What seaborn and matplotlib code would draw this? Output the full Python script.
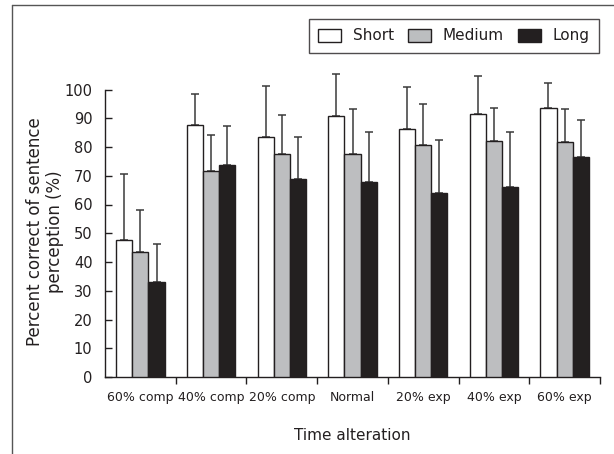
import numpy as np
import pandas as pd
import matplotlib
matplotlib.use("Agg")
import matplotlib.pyplot as plt
import seaborn as sns
from matplotlib.lines import Line2D
from matplotlib.patches import Patch

categories = ["60% comp", "40% comp", "20% comp", "Normal", "20% exp", "40% exp", "60% exp"]
groups = ["Short", "Medium", "Long"]
short_mean = [47.8, 87.6, 83.4, 90.8, 86.3, 91.6, 93.5]
medium_mean = [43.6, 71.5, 77.5, 77.4, 80.6, 82.1, 81.9]
long_mean = [33.1, 73.7, 68.7, 67.8, 63.9, 66.0, 76.6]
short_sd = [22.7, 10.7, 17.8, 14.6, 14.6, 13.1, 8.6]
medium_sd = [14.6, 12.7, 13.8, 15.7, 14.2, 11.5, 11.2]
long_sd = [13.3, 13.7, 14.9, 17.4, 18.6, 19.1, 12.9]
yticks = list(range(0, 101, 10))
colors = {"Short": "#ffffff", "Medium": "#bcbec0", "Long": "#231f20"}

rows = []
for g, means, sds in zip(groups, [short_mean, medium_mean, long_mean], [short_sd, medium_sd, long_sd]):
    for c, m, s in zip(categories, means, sds):
        rows.append({"cat": c, "grp": g, "mean": m, "sd": s})
df = pd.DataFrame(rows)

sns.set_style("ticks")
plt.rcParams["font.family"] = ["DejaVu Sans"]

fig = plt.figure(figsize=(6.14, 4.54), dpi=100)
W, H = 614, 454
ax = fig.add_axes([105 / W, 1 - 377 / H, (600 - 105) / W, (377 - 89.5) / H])

sns.barplot(data=df, x="cat", y="mean", hue="grp", order=categories, hue_order=groups,
            palette=colors, width=0.686, edgecolor="#231f20", linewidth=1.0,
            errorbar=None, ax=ax, legend=False, zorder=3)

# error bars (upward only), positioned from the drawn bars
for gi, g in enumerate(groups):
    sub = df[df["grp"] == g].set_index("cat").loc[categories]
    patches = ax.patches[gi * len(categories):(gi + 1) * len(categories)]
    xs = [p.get_x() + p.get_width() / 2 for p in patches]
    ax.errorbar(xs, sub["mean"].values, yerr=[np.zeros(len(xs)), sub["sd"].values],
                fmt="none", ecolor="#3a3a3a", elinewidth=1.1, capsize=3.2, capthick=1.1,
                zorder=2, clip_on=False)

ax.set_ylim(0, 100)
ax.set_xlim(-0.5, len(categories) - 0.5)
ax.set_yticks(yticks)
ax.set_yticklabels([str(v) for v in yticks])
ax.tick_params(axis="y", which="both", direction="in", left=True, length=5, width=1,
               pad=9, labelsize=10.5, colors="#231f20")
ax.set_xticks(range(len(categories)))
ax.set_xticklabels(categories)
ax.tick_params(axis="x", which="major", length=0, pad=10, labelsize=9, colors="#231f20")
ax.set_xticks(np.arange(0.5, len(categories), 1.0), minor=True)
ax.tick_params(axis="x", which="minor", direction="out", length=5, width=1, color="#231f20")
for s in ["top", "right"]:
    ax.spines[s].set_visible(False)
for s in ["left", "bottom"]:
    ax.spines[s].set_linewidth(1.0)
    ax.spines[s].set_color("#231f20")
ax.set_xlabel("")
ax.set_ylabel("")

fig.text(45 / W, 1 - 232 / H, "Percent correct of sentence\nperception (%)", rotation=90,
         ha="center", va="center", multialignment="center", fontsize=12, color="#231f20",
         linespacing=1.15)
fig.text(352 / W, 1 - 436 / H, "Time alteration", ha="center", va="center",
         fontsize=11, color="#231f20")

# legend
handles = [Patch(facecolor=colors[g], edgecolor="#231f20", linewidth=1.0) for g in groups]
leg = fig.legend(handles, groups, loc="upper right", bbox_to_anchor=(599 / W, 1 - 19 / H),
                 borderaxespad=0.0, ncol=3, frameon=True, fancybox=False, fontsize=11,
                 handlelength=1.5, handleheight=0.9, columnspacing=0.95, handletextpad=0.75,
                 borderpad=0.62)
leg.get_frame().set_edgecolor("#231f20")
leg.get_frame().set_linewidth(1.0)
for t in leg.get_texts():
    t.set_color("#231f20")

# outer frame lines (top and left)
fig.add_artist(Line2D([12 / W, 1.0], [1 - 5 / H, 1 - 5 / H], transform=fig.transFigure,
                      color="#555555", linewidth=1.0))
fig.add_artist(Line2D([12 / W, 12 / W], [0, 1 - 5 / H], transform=fig.transFigure,
                      color="#555555", linewidth=1.0))

fig.savefig("out.png", dpi=100)
